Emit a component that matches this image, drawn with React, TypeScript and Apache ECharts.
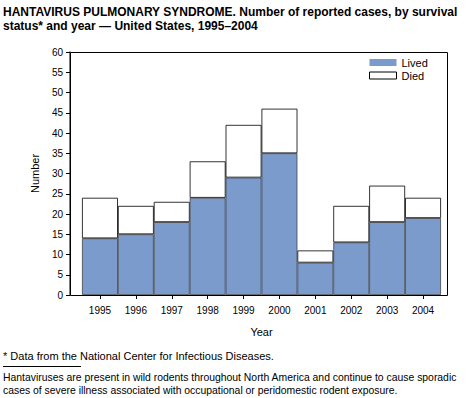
import React, { useEffect, useRef } from "react";
import * as echarts from "echarts";

const years = ["1995", "1996", "1997", "1998", "1999", "2000", "2001", "2002", "2003", "2004"];
const lived = [14, 15, 18, 24, 29, 35, 8, 13, 18, 19];
const died = [10, 7, 5, 9, 13, 11, 3, 9, 9, 5];
const yTicks = { min: 0, max: 60, interval: 5 };

const FONT = "Liberation Sans, Arial, sans-serif";
const BLUE = "#7b9bcc";

export default function App() {
  const ref = useRef<HTMLDivElement>(null);
  useEffect(() => {
    if (!ref.current) return;
    const chart = echarts.init(ref.current, undefined, { renderer: "svg" });
    chart.setOption({
      animation: false,
      backgroundColor: "#ffffff",
      textStyle: { fontFamily: FONT },
      grid: { left: 82, right: 30, top: 52, bottom: 103 },
      legend: {
        orient: "vertical",
        left: 364,
        top: 52,
        itemWidth: 27,
        itemHeight: 7,
        itemGap: 2,
        icon: "rect",
        textStyle: { fontSize: 11, color: "#000", fontFamily: FONT },
        data: [
          { name: "Lived", itemStyle: { color: BLUE, borderColor: BLUE, borderWidth: 0 } },
          { name: "Died", itemStyle: { color: "#fff", borderColor: "#000", borderWidth: 1 } },
        ],
      },
      xAxis: {
        type: "category",
        data: years,
        axisLine: { show: false },
        axisTick: { show: true, alignWithLabel: true, length: 4, lineStyle: { color: "#000" } },
        axisLabel: { color: "#000", fontSize: 10, margin: 10, fontFamily: FONT },
        name: "Year",
        nameLocation: "middle",
        nameGap: 31,
        nameTextStyle: { fontSize: 11, color: "#000", fontFamily: FONT },
      },
      yAxis: {
        type: "value",
        min: yTicks.min,
        max: yTicks.max,
        interval: yTicks.interval,
        offset: 12,
        splitLine: { show: false },
        axisLine: { show: true, lineStyle: { color: "#555", width: 1.5 } },
        axisTick: { show: true, length: 4, lineStyle: { color: "#000" } },
        axisLabel: { color: "#000", fontSize: 10, margin: 7, fontFamily: FONT },
        name: "Number",
        nameLocation: "middle",
        nameGap: 30,
        nameRotate: 90,
        nameTextStyle: { fontSize: 11, color: "#000", fontFamily: FONT },
      },
      series: [
        {
          name: "Lived",
          type: "bar",
          stack: "total",
          data: lived,
          barCategoryGap: "0%",
          itemStyle: { color: BLUE, borderColor: "#444", borderWidth: 0.8 },
        },
        {
          name: "Died",
          type: "bar",
          stack: "total",
          data: died,
          barCategoryGap: "0%",
          itemStyle: { color: "#ffffff", borderColor: "#000", borderWidth: 0.8 },
        },
      ],
      graphic: [
        {
          type: "rect",
          shape: { x: 70.5, y: 52.5, width: 377, height: 243 },
          style: { fill: "none", stroke: "#000", lineWidth: 1 },
          silent: true,
          z: 100,
        },
        {
          type: "text",
          left: 3,
          top: 5,
          style: {
            text: "HANTAVIRUS PULMONARY SYNDROME. Number of reported cases, by survival\nstatus* and year \u2014 United States, 1995\u20132004",
            font: "bold 12px " + FONT,
            fill: "#000",
            lineHeight: 14,
          },
        },
        {
          type: "text",
          left: 3,
          top: 350,
          style: {
            text: "* Data from the National Center for Infectious Diseases.",
            font: "11px " + FONT,
            fill: "#000",
          },
        },
        {
          type: "line",
          shape: { x1: 3, y1: 366.5, x2: 81, y2: 366.5 },
          style: { stroke: "#000", lineWidth: 1 },
        },
        {
          type: "text",
          left: 3,
          top: 371,
          style: {
            text: "Hantaviruses are present in wild rodents throughout North America and continue to cause sporadic\ncases of severe illness associated with occupational or peridomestic rodent exposure.",
            font: "10.4px " + FONT,
            fill: "#000",
            lineHeight: 13,
          },
        },
      ],
    });
    return () => chart.dispose();
  }, []);
  return (
    <div
      ref={ref}
      style={{ position: "fixed", left: 0, top: 0, width: 471, height: 398 }}
    />
  );
}
